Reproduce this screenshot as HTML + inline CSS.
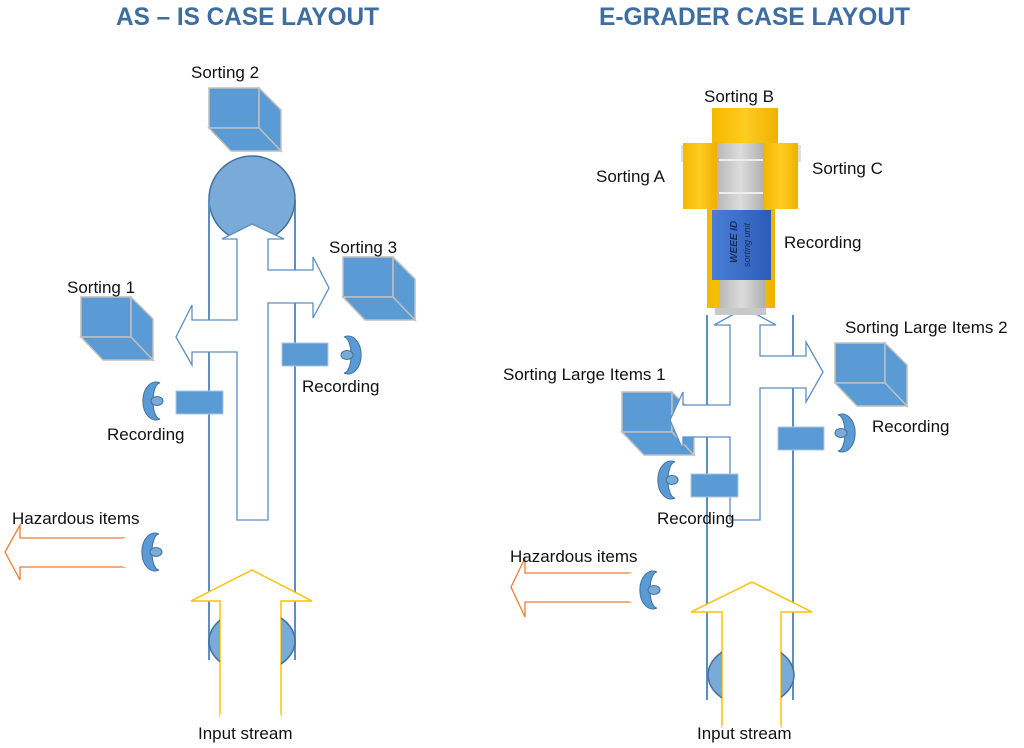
<!DOCTYPE html>
<html><head><meta charset="utf-8"><style>
html,body{margin:0;padding:0;background:#fff;width:1024px;height:748px;overflow:hidden}
text{font-family:"Liberation Sans",sans-serif;fill:#111}
</style></head><body>
<svg width="1024" height="748" viewBox="0 0 1024 748" xmlns="http://www.w3.org/2000/svg">
<defs>
<g id="cube"><rect x="0" y="0" width="50" height="40" fill="#5b9bd5" stroke="#bfbfbf" stroke-width="1.5"/>
<polygon points="50,0 72,22 72,63 50,40" fill="#5b9bd5" stroke="#bfbfbf" stroke-width="1.5"/>
<polygon points="0,40 50,40 72,63 22,63" fill="#5b9bd5" stroke="#bfbfbf" stroke-width="1.5"/></g>
<g id="eyeR"><path d="M8,-18 A13,19 0 1,0 8,18 A7,18 0 0,1 8,-18 Z" fill="#5b9bd5" stroke="#41719c" stroke-width="1"/><ellipse cx="5" cy="0" rx="6" ry="4.5" fill="#7aaad8" stroke="#41719c" stroke-width="1"/></g>
<g id="eyeL"><use href="#eyeR" transform="scale(-1,1)"/></g>
<linearGradient id="yel" x1="0" x2="1"><stop offset="0" stop-color="#f5b800"/><stop offset="0.5" stop-color="#ffcc22"/><stop offset="1" stop-color="#f0b000"/></linearGradient>
<linearGradient id="gry" x1="0" x2="1"><stop offset="0" stop-color="#b8b8b8"/><stop offset="0.5" stop-color="#dcdcdc"/><stop offset="1" stop-color="#b0b0b0"/></linearGradient>
<linearGradient id="blu" x1="0" x2="1"><stop offset="0" stop-color="#4a7fd6"/><stop offset="1" stop-color="#2a5cb8"/></linearGradient>
</defs>

<text x="116" y="25" font-size="25" font-weight="bold" style="fill:#3e6ea0" textLength="263" lengthAdjust="spacingAndGlyphs">AS – IS CASE LAYOUT</text>
<text x="599" y="25" font-size="25" font-weight="bold" style="fill:#3e6ea0" textLength="311" lengthAdjust="spacingAndGlyphs">E-GRADER CASE LAYOUT</text>

<!-- LEFT DIAGRAM -->
<use href="#cube" x="209" y="88"/>
<use href="#cube" x="343" y="257"/>
<use href="#cube" x="81" y="297"/>
<line x1="209" y1="200" x2="209" y2="660" stroke="#5b8ec4" stroke-width="2"/>
<line x1="295" y1="200" x2="295" y2="660" stroke="#5b8ec4" stroke-width="2"/>
<circle cx="252" cy="199" r="43" fill="#7aaad8" stroke="#41719c" stroke-width="1.5"/>
<ellipse cx="252" cy="641" rx="43" ry="31" fill="#7aaad8" stroke="#41719c" stroke-width="1.5"/>
<polygon points="252,224 284,239 268,239 268,270 313,270 313,257 329,288 313,318 313,303 268,303 268,520 237,520 237,352 192,352 192,365 176,337 192,305 192,320 237,320 237,239 222,239" fill="#fff" stroke="#5b8ec4" stroke-width="1.3"/>
<line x1="209" y1="200" x2="209" y2="320" stroke="#5b8ec4" stroke-width="2"/>
<line x1="295" y1="240" x2="295" y2="270" stroke="#5b8ec4" stroke-width="2"/>
<line x1="209" y1="352" x2="209" y2="640" stroke="#5b8ec4" stroke-width="2"/>
<line x1="295" y1="303" x2="295" y2="640" stroke="#5b8ec4" stroke-width="2"/>
<rect x="176" y="391" width="47" height="23" fill="#5b9bd5" stroke="#aac4e0"/>
<rect x="282" y="343" width="46" height="23" fill="#5b9bd5" stroke="#aac4e0"/>
<use href="#eyeR" x="152" y="401"/>
<use href="#eyeL" x="352" y="355"/>
<use href="#eyeR" x="151" y="552"/>
<polygon points="125,538 20,538 20,525 5,552 20,580 20,567 125,567" fill="#fff" stroke="#f07c30" stroke-width="1.3"/>
<line x1="125" y1="538" x2="125" y2="567" stroke="#fff" stroke-width="3"/>
<polygon points="252,570 312,601 281,601 281,716 220,716 220,601 191,601" fill="#fff" stroke="#ffc000" stroke-width="1.5"/>
<line x1="220" y1="716" x2="281" y2="716" stroke="#fff" stroke-width="3"/>
<clipPath id="c1"><rect x="200" y="600" width="20" height="80"/><rect x="281" y="600" width="20" height="80"/></clipPath>
<ellipse cx="252" cy="641" rx="43" ry="31" fill="#7aaad8" stroke="#41719c" stroke-width="1.5" clip-path="url(#c1)"/>

<text x="191" y="78" font-size="17">Sorting 2</text>
<text x="329" y="253" font-size="17">Sorting 3</text>
<text x="67" y="293" font-size="17">Sorting 1</text>
<text x="107" y="440" font-size="17">Recording</text>
<text x="302" y="392" font-size="17">Recording</text>
<text x="12" y="524" font-size="17">Hazardous items</text>
<text x="198" y="739" font-size="17">Input stream</text>

<!-- RIGHT DIAGRAM -->
<use href="#cube" x="622" y="392"/>
<use href="#cube" x="835" y="343"/>
<line x1="707" y1="315" x2="707" y2="700" stroke="#5b8ec4" stroke-width="2"/>
<line x1="793" y1="315" x2="793" y2="700" stroke="#5b8ec4" stroke-width="2"/>
<polygon points="745,308 776,325 760,325 760,356 806,356 806,342 823,372 806,402 806,388 760,388 760,520 730,520 730,437 683,437 683,450 670,420 683,392 683,405 730,405 730,325 714,325" fill="#fff" stroke="#5b8ec4" stroke-width="1.3"/>
<line x1="707" y1="315" x2="707" y2="405" stroke="#5b8ec4" stroke-width="2"/>
<line x1="793" y1="315" x2="793" y2="356" stroke="#5b8ec4" stroke-width="2"/>
<line x1="707" y1="437" x2="707" y2="660" stroke="#5b8ec4" stroke-width="2"/>
<line x1="793" y1="388" x2="793" y2="660" stroke="#5b8ec4" stroke-width="2"/>
<rect x="778" y="427" width="46" height="23" fill="#5b9bd5" stroke="#aac4e0"/>
<rect x="691" y="474" width="47" height="23" fill="#5b9bd5" stroke="#aac4e0"/>
<use href="#eyeL" x="846" y="433"/>
<use href="#eyeR" x="667" y="480"/>
<use href="#eyeR" x="649" y="590"/>
<polygon points="631,573 525,573 525,558 511,587 525,617 525,602 631,602" fill="#fff" stroke="#f07c30" stroke-width="1.3"/>
<line x1="631" y1="573" x2="631" y2="602" stroke="#fff" stroke-width="3"/>
<polygon points="752,582 812,612 781,612 781,727 722,727 722,612 691,612" fill="#fff" stroke="#ffc000" stroke-width="1.5"/>
<line x1="722" y1="727" x2="781" y2="727" stroke="#fff" stroke-width="3"/>
<clipPath id="c2"><rect x="700" y="640" width="22" height="70"/><rect x="781" y="640" width="22" height="70"/></clipPath>
<ellipse cx="751" cy="675" rx="43" ry="31" fill="#7aaad8" stroke="#41719c" stroke-width="1.5" clip-path="url(#c2)"/>

<rect x="715" y="300" width="51" height="15" fill="#c8c8c8"/>
<rect x="707" y="209" width="68" height="99" fill="url(#yel)"/>
<rect x="719" y="209" width="46" height="99" fill="url(#gry)"/>
<rect x="681" y="145" width="120" height="17" fill="#e0e0e0"/>
<rect x="683" y="143" width="34" height="66" fill="url(#yel)"/>
<rect x="764" y="143" width="34" height="66" fill="url(#yel)"/>
<rect x="717" y="143" width="47" height="66" fill="url(#gry)"/>
<line x1="719" y1="160" x2="763" y2="160" stroke="#eee" stroke-width="2"/>
<line x1="719" y1="193" x2="763" y2="193" stroke="#eee" stroke-width="2"/>
<rect x="712" y="108" width="66" height="35" fill="url(#yel)"/>
<rect x="712" y="210" width="59" height="70" fill="url(#blu)"/>
<text transform="translate(737,263) rotate(-90)" font-size="10" font-weight="bold" font-style="italic" style="fill:#1a2a55">WEEE ID</text>
<text transform="translate(750,267) rotate(-90)" font-size="9" font-style="italic" style="fill:#1a2a55">sorting unit</text>

<text x="704" y="102" font-size="17">Sorting B</text>
<text x="596" y="182" font-size="17">Sorting A</text>
<text x="812" y="174" font-size="17">Sorting C</text>
<text x="784" y="248" font-size="17">Recording</text>
<text x="845" y="333" font-size="17">Sorting Large Items 2</text>
<text x="503" y="380" font-size="17">Sorting Large Items 1</text>
<text x="872" y="432" font-size="17">Recording</text>
<text x="657" y="524" font-size="17">Recording</text>
<text x="510" y="562" font-size="17">Hazardous items</text>
<text x="697" y="739" font-size="17">Input stream</text>
</svg>
</body></html>
